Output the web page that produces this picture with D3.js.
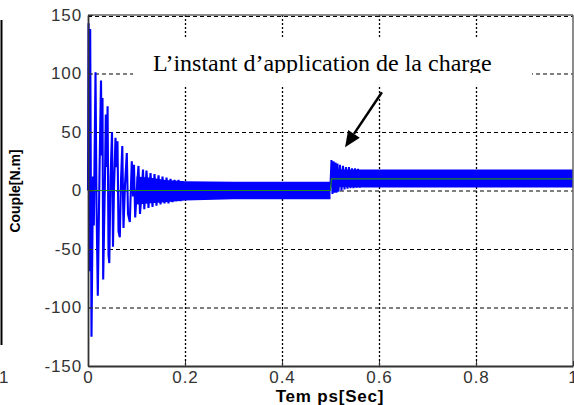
<!DOCTYPE html>
<html>
<head>
<meta charset="utf-8">
<script src="https://cdn.jsdelivr.net/npm/d3@7"></script>
<style>
  body { margin: 0; background: #fff; }
  svg { display: block; }
</style>
</head>
<body>
<div id="chart"></div>
<script>
// startup transient of the torque, (time s, torque N.m)
let startT = [0, 0.0012, 0.0029, 0.0045, 0.0072, 0.0103, 0.012, 0.0155, 0.0175, 0.0202,
  0.0237, 0.0268, 0.0285, 0.0299, 0.0313, 0.0351, 0.0367, 0.0388, 0.0404, 0.0423,
  0.0439, 0.0464, 0.0495, 0.0515, 0.0536, 0.0567, 0.0584, 0.0608, 0.0629, 0.0656,
  0.068, 0.0707, 0.0732, 0.0763, 0.08, 0.0825, 0.0862, 0.0887, 0.0903, 0.0928,
  0.0948, 0.0973, 0.101, 0.1041, 0.1072, 0.1113, 0.1134, 0.1161, 0.1206, 0.1247,
  0.1289, 0.133, 0.1371, 0.1412, 0.1454, 0.1495, 0.1536, 0.1577, 0.1619, 0.166,
  0.1701, 0.1742, 0.1784, 0.1825, 0.1866, 0.1907, 0.1948, 0.199]
let startV = [0, 143, -69, 138, -125, 12, -30, 101, -10, -90,
  15, 94, 30, 79, -76, 14, 65, 20, 72, -55,
  -62, 10, 50, -48, 2, 45, 20, 42, -35, -40,
  8, 38, -32, 5, 32, -20, -27, 5, 25, -5,
  22, -23, 3, 21, -20, 2, 18, -16, 17, -15,
  15, -14, 14, -13, 13, -12, 12, -11, 11, -11,
  10, -10, 9, -9, 9, -9, 8, -8]

// transient after the load is applied
let loadT = [0.5, 0.502, 0.5041, 0.5062, 0.5082, 0.5103, 0.5124, 0.5144, 0.5165, 0.5196,
  0.5227, 0.5258, 0.5289, 0.532, 0.5351, 0.5381, 0.5412, 0.5443, 0.5474, 0.5505,
  0.5536, 0.5567, 0.5608]
let loadV = [5, 26, -3, 25, -2, 24, -2, 23, -1, 22,
  0, 21, 1, 20, 1.5, 20, 2, 19, 2, 19,
  2.5, 18.5, 2.5]

// ripple envelope (the dense band) before and after the load
let band1T = [0.1, 0.13, 0.16, 0.2, 0.3, 0.4, 0.5]
let band1Hi = [12, 11, 9, 8, 7.5, 7.5, 7.5]
let band1Lo = [-12, -11, -10, -8.5, -7.5, -7.5, -7.5]
let band2T = [0.5, 0.52, 0.56, 0.7, 0.85, 1.0]
let band2Hi = [16, 18, 18, 18, 18, 18]
let band2Lo = [3, 3, 2.6, 2.6, 2.6, 2.6]

// load torque reference (green)
let refT = [0, 0.5, 0.502, 1]
let refV = [0, 0, 10, 10]

let xTicks = [0, 0.2, 0.4, 0.6, 0.8, 1]
let yTicks = [-150, -100, -50, 0, 50, 100, 150]

let W = 574, H = 405
let mLeft = 88, mRight = 573, mTop = 15, mBottom = 366

let svg = d3.select("#chart").append("svg")
  .attr("width", W)
  .attr("height", H)

svg.append("rect").attr("width", W).attr("height", H).attr("fill", "#fff")

let x = d3.scaleLinear().domain([0, 1]).range([mLeft, mRight])
let y = d3.scaleLinear().domain([-150, 150]).range([mBottom, mTop])

//grid
svg.append("g").selectAll("line")
  .data(yTicks.slice(1, -1))
  .join("line")
  .attr("x1", mLeft).attr("x2", mRight)
  .attr("y1", d => y(d) + 0.5).attr("y2", d => y(d) + 0.5)
  .attr("stroke", "#000").attr("stroke-width", 1.2)
  .attr("stroke-dasharray", "4,3")
svg.append("line")
  .attr("x1", mLeft).attr("x2", mRight)
  .attr("y1", y(150) + 1.5).attr("y2", y(150) + 1.5)
  .attr("stroke", "#000").attr("stroke-width", 1.2)
  .attr("stroke-dasharray", "4,3")
svg.append("g").selectAll("line")
  .data(xTicks.slice(1, -1))
  .join("line")
  .attr("x1", d => x(d) + 0.5).attr("x2", d => x(d) + 0.5)
  .attr("y1", mTop).attr("y2", mBottom)
  .attr("stroke", "#000").attr("stroke-width", 1.3)
  .attr("stroke-dasharray", "2,2")

//curves
let blue = "#0000ff"
let band = d3.area().x(d => x(d[0])).y0(d => y(d[2])).y1(d => y(d[1]))
svg.append("path")
  .datum(band1T.map((t, i) => [t, band1Hi[i], band1Lo[i]]))
  .attr("d", band).attr("fill", blue)
svg.append("path")
  .datum(band2T.map((t, i) => [t, band2Hi[i], band2Lo[i]]))
  .attr("d", band).attr("fill", blue)

let line = d3.line().x(d => x(d[0])).y(d => y(d[1]))
svg.append("path")
  .datum(startT.map((t, i) => [t, startV[i]]))
  .attr("d", line).attr("fill", "none")
  .attr("stroke", blue).attr("stroke-width", 2.1)
svg.append("path")
  .datum(loadT.map((t, i) => [t, loadV[i]]))
  .attr("d", line).attr("fill", "none")
  .attr("stroke", blue).attr("stroke-width", 2)

svg.append("path")
  .datum(refT.map((t, i) => [t, refV[i]]))
  .attr("d", line).attr("fill", "none")
  .attr("stroke", "#1f8a1f").attr("stroke-width", 1.2)

//box
svg.append("line").attr("x1", mLeft).attr("x2", mRight).attr("y1", mTop).attr("y2", mTop)
  .attr("stroke", "#666").attr("stroke-width", 1.5)
svg.append("line").attr("x1", mRight).attr("x2", mRight).attr("y1", mTop).attr("y2", mBottom)
  .attr("stroke", "#666").attr("stroke-width", 1.5)

//axes
let font = "Arial, 'Liberation Sans', sans-serif"
let ax = svg.append("g").attr("transform", `translate(0,${mBottom})`)
  .call(d3.axisBottom(x).tickValues(xTicks).tickFormat(d => String(d))
    .tickSizeInner(-5).tickSizeOuter(0).tickPadding(5))
let ay = svg.append("g").attr("transform", `translate(${mLeft},0)`)
  .call(d3.axisLeft(y).tickValues(yTicks).tickFormat(d => String(d))
    .tickSizeInner(-5).tickSizeOuter(0).tickPadding(6))
for (let a of [ax, ay]) {
  a.select(".domain").attr("stroke", "#333").attr("stroke-width", 1.8)
  a.selectAll(".tick line").attr("stroke", "#333")
  a.selectAll(".tick text")
    .attr("fill", "#333")
    .style("font-family", font)
    .style("font-size", "17px")
    .style("letter-spacing", "0.9px")
}

svg.append("text")
  .attr("x", 330).attr("y", 402)
  .attr("text-anchor", "middle")
  .style("font-family", font).style("font-size", "17px").style("font-weight", "bold")
  .style("letter-spacing", "0.8px")
  .text("Tem ps[Sec]")

svg.append("text")
  .attr("transform", "translate(20,191) rotate(-90)")
  .attr("text-anchor", "middle")
  .style("font-family", font).style("font-size", "14px").style("font-weight", "bold")
  .text("Couple[N.m]")

//leftover from the neighbouring figure
svg.append("line").attr("x1", 1.5).attr("x2", 1.5).attr("y1", 20).attr("y2", 345)
  .attr("stroke", "#000").attr("stroke-width", 2)
svg.append("text").attr("x", -1).attr("y", 383)
  .attr("fill", "#333")
  .style("font-family", font).style("font-size", "17px")
  .text("1")

//annotation
svg.append("rect")
  .attr("x", 133).attr("y", 37).attr("width", 399).attr("height", 48)
  .attr("fill", "#fff")
svg.append("clipPath").attr("id", "clipText")
  .append("rect").attr("x", 100).attr("y", 30).attr("width", 450).attr("height", 43)
svg.append("text")
  .attr("x", x(0.134)).attr("y", 71)
  .attr("clip-path", "url(#clipText)")
  .style("font-family", "'Times New Roman', 'Liberation Serif', serif")
  .style("font-size", "24px")
  .text("L\u2019instant d\u2019application de la charge")

let a0 = [x(0.606), y(84)], a1 = [x(0.53), y(37)]
let ang = Math.atan2(a1[1] - a0[1], a1[0] - a0[0])
let hl = 16, hw = 7
let base = [a1[0] - hl * Math.cos(ang), a1[1] - hl * Math.sin(ang)]
svg.append("line")
  .attr("x1", a0[0]).attr("y1", a0[1]).attr("x2", base[0]).attr("y2", base[1])
  .attr("stroke", "#000").attr("stroke-width", 2.5)
svg.append("polygon")
  .attr("points", [
    a1,
    [base[0] + hw * Math.sin(ang), base[1] - hw * Math.cos(ang)],
    [base[0] - hw * Math.sin(ang), base[1] + hw * Math.cos(ang)]
  ].map(p => p.join(",")).join(" "))
  .attr("fill", "#000")
</script>
</body>
</html>
